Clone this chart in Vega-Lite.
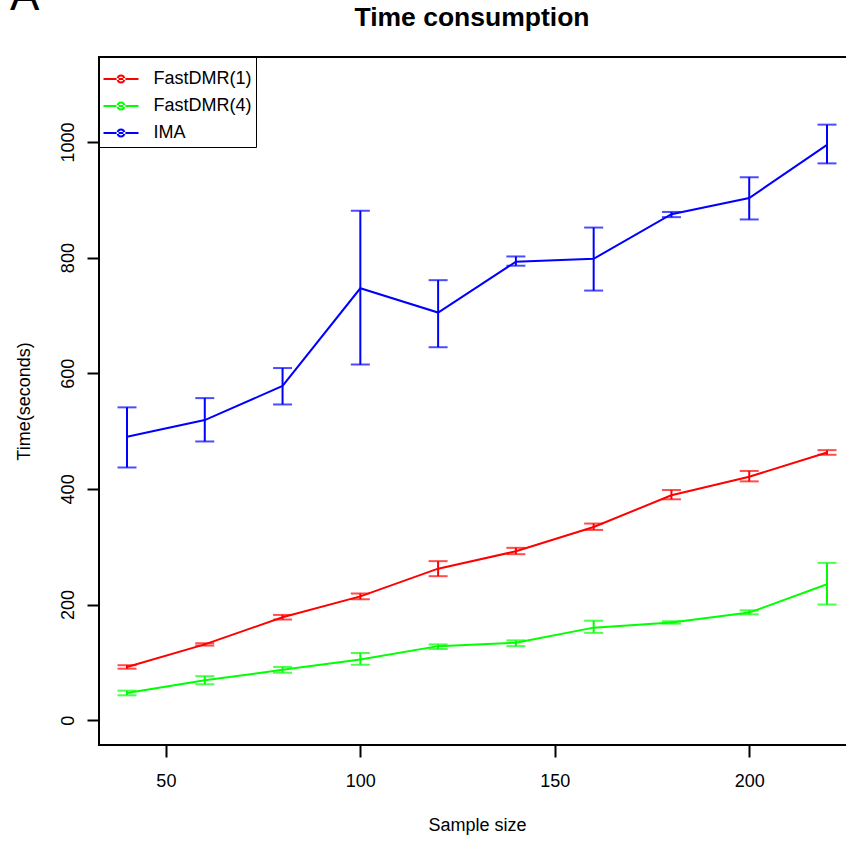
{
  "$schema": "https://vega.github.io/schema/vega-lite/v6.json",
  "autosize": {"type": "none"},
  "padding": {"left": 99, "top": 57, "right": 747, "bottom": 784},
  "background": "white",
  "config": {"view": {"stroke": "black", "strokeWidth": 2}, "font": "Liberation Sans"},
  "title": {"text": "A", "anchor": "start", "frame": "group", "fontSize": 44, "fontWeight": "normal", "font": "Liberation Sans", "color": "black", "offset": 0, "dx": -89, "dy": 15},
  "vconcat": [
    {
      "width": 756,
      "height": 688,
      "title": {"text": "Time consumption", "fontSize": 26.5, "fontWeight": "bold", "font": "Liberation Sans", "color": "black", "anchor": "middle", "offset": 26, "dx": -5},
      "data": {
        "values": [
          {"n": 40, "method": "FastDMR(1)", "mean": 92, "lo": 89, "hi": 95},
          {"n": 60, "method": "FastDMR(1)", "mean": 131, "lo": 129, "hi": 133},
          {"n": 80, "method": "FastDMR(1)", "mean": 178, "lo": 174, "hi": 182},
          {"n": 100, "method": "FastDMR(1)", "mean": 214, "lo": 209, "hi": 219},
          {"n": 120, "method": "FastDMR(1)", "mean": 262, "lo": 249, "hi": 275},
          {"n": 140, "method": "FastDMR(1)", "mean": 292, "lo": 287, "hi": 298},
          {"n": 160, "method": "FastDMR(1)", "mean": 334, "lo": 329, "hi": 340},
          {"n": 180, "method": "FastDMR(1)", "mean": 389, "lo": 382, "hi": 398},
          {"n": 200, "method": "FastDMR(1)", "mean": 421, "lo": 413, "hi": 431},
          {"n": 220, "method": "FastDMR(1)", "mean": 463, "lo": 459, "hi": 467},
          {"n": 40, "method": "FastDMR(4)", "mean": 47, "lo": 43, "hi": 51},
          {"n": 60, "method": "FastDMR(4)", "mean": 69, "lo": 62, "hi": 76},
          {"n": 80, "method": "FastDMR(4)", "mean": 87, "lo": 82, "hi": 92},
          {"n": 100, "method": "FastDMR(4)", "mean": 105, "lo": 96, "hi": 116},
          {"n": 120, "method": "FastDMR(4)", "mean": 128, "lo": 123, "hi": 131},
          {"n": 140, "method": "FastDMR(4)", "mean": 134, "lo": 128, "hi": 138},
          {"n": 160, "method": "FastDMR(4)", "mean": 160, "lo": 151, "hi": 172},
          {"n": 180, "method": "FastDMR(4)", "mean": 169, "lo": 167, "hi": 171},
          {"n": 200, "method": "FastDMR(4)", "mean": 186, "lo": 183, "hi": 190},
          {"n": 220, "method": "FastDMR(4)", "mean": 235, "lo": 200, "hi": 272},
          {"n": 40, "method": "IMA", "mean": 490, "lo": 437, "hi": 541},
          {"n": 60, "method": "IMA", "mean": 519, "lo": 482, "hi": 557},
          {"n": 80, "method": "IMA", "mean": 578, "lo": 546, "hi": 609},
          {"n": 100, "method": "IMA", "mean": 747, "lo": 615, "hi": 881},
          {"n": 120, "method": "IMA", "mean": 705, "lo": 645, "hi": 761},
          {"n": 140, "method": "IMA", "mean": 793, "lo": 786, "hi": 802},
          {"n": 160, "method": "IMA", "mean": 798, "lo": 743, "hi": 852},
          {"n": 180, "method": "IMA", "mean": 875, "lo": 870, "hi": 879},
          {"n": 200, "method": "IMA", "mean": 903, "lo": 866, "hi": 939},
          {"n": 220, "method": "IMA", "mean": 995, "lo": 963, "hi": 1030}
        ]
      },
      "encoding": {
        "x": {
          "field": "n", "type": "quantitative",
          "scale": {"domain": [32.8, 227.2], "nice": false, "zero": false},
          "axis": {"values": [50, 100, 150, 200], "title": "Sample size", "titleFontSize": 18, "titleFontWeight": "normal", "titleColor": "black", "titlePadding": 26, "labelFontSize": 18, "labelColor": "black", "labelPadding": 15, "labelFlush": false, "tickSize": 12, "tickWidth": 2, "tickColor": "black", "domain": false, "grid": false}
        },
        "color": {
          "field": "method", "type": "nominal",
          "scale": {"domain": ["FastDMR(1)", "FastDMR(4)", "IMA"], "range": ["#FF0000", "#00FF00", "#0000FF"]},
          "legend": {"title": null, "orient": "top-left", "offset": 0, "padding": 4.5, "strokeColor": "black", "fillColor": "white", "symbolType": "M-1,-0.057H1V0.057H-1Z M0.257,0A0.257,0.257,0,1,0,-0.257,0A0.257,0.257,0,1,0,0.257,0Z M0.143,0A0.143,0.143,0,1,1,-0.143,0A0.143,0.143,0,1,1,0.143,0Z", "symbolSize": 1225, "symbolStrokeWidth": 0, "rowPadding": -12.5, "labelFontSize": 18, "labelColor": "black", "labelOffset": 15, "labelLimit": 300, "encode": {"symbols": {"update": {"strokeWidth": {"value": 0}}}}}
        }
      },
      "layer": [
        {
          "mark": {"type": "rule", "strokeWidth": 2},
          "encoding": {
            "y": {"field": "lo", "type": "quantitative", "scale": {"domain": [-43, 1147], "nice": false, "zero": false}, "axis": {"values": [0, 200, 400, 600, 800, 1000], "format": "d", "title": "Time(seconds)", "titleFontSize": 18, "titleFontWeight": "normal", "titleColor": "black", "titlePadding": 26, "labelFontSize": 18, "labelColor": "black", "labelAngle": 270, "labelAlign": "center", "labelBaseline": "bottom", "labelPadding": 10, "tickSize": 12, "tickWidth": 2, "tickColor": "black", "domain": false, "grid": false}},
            "y2": {"field": "hi"}
          }
        },
        {
          "mark": {"type": "tick", "orient": "horizontal", "size": 19, "thickness": 2},
          "encoding": {"y": {"field": "lo", "type": "quantitative", "title": "Time(seconds)"}}
        },
        {
          "mark": {"type": "tick", "orient": "horizontal", "size": 19, "thickness": 2},
          "encoding": {"y": {"field": "hi", "type": "quantitative", "title": "Time(seconds)"}}
        },
        {
          "mark": {"type": "line", "strokeWidth": 2},
          "encoding": {"y": {"field": "mean", "type": "quantitative", "title": "Time(seconds)"}}
        }
      ]
    }
  ]
}
